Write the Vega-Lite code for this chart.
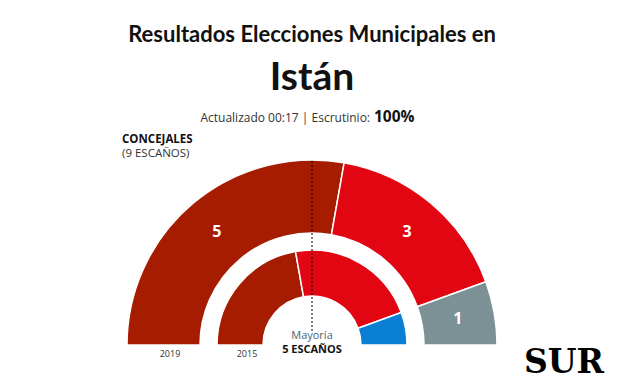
{
  "$schema": "https://vega.github.io/schema/vega-lite/v6.json",
  "width": 624,
  "height": 80,
  "autosize": "none",
  "padding": {"top": 305, "left": 0, "right": 0, "bottom": 0},
  "background": "white",
  "config": {"view": {"stroke": null}},
  "datasets": {
    "escanos": [
      {"anio": 2019, "partido": "IU", "escanos": 5, "orden": 1},
      {"anio": 2019, "partido": "PSOE", "escanos": 3, "orden": 2},
      {"anio": 2019, "partido": "Otros", "escanos": 1, "orden": 3},
      {"anio": 2015, "partido": "IU", "escanos": 4, "orden": 1},
      {"anio": 2015, "partido": "PSOE", "escanos": 4, "orden": 2},
      {"anio": 2015, "partido": "PP", "escanos": 1, "orden": 3}
    ]
  },
  "layer": [
    {
      "data": {"name": "escanos"},
      "transform": [{"filter": "datum.anio == 2019"}],
      "mark": {"type": "arc", "radius": 185, "radius2": 112, "stroke": "white", "strokeWidth": 1.5},
      "encoding": {
        "theta": {"field": "escanos", "type": "quantitative", "stack": true, "scale": {"domain": [0, 9], "range": [-1.5708, 1.5708]}},
        "order": {"field": "orden", "type": "quantitative"},
        "color": {"field": "partido", "type": "nominal", "legend": null, "scale": {"domain": ["IU", "PSOE", "Otros", "PP"], "range": ["#a51c00", "#e20613", "#7b9196", "#0a7fd4"]}}
      }
    },
    {
      "data": {"name": "escanos"},
      "transform": [{"filter": "datum.anio == 2015"}],
      "mark": {"type": "arc", "radius": 95, "radius2": 49, "stroke": "white", "strokeWidth": 1.5},
      "encoding": {
        "theta": {"field": "escanos", "type": "quantitative", "stack": true},
        "order": {"field": "orden", "type": "quantitative"},
        "color": {"field": "partido", "type": "nominal", "legend": null}
      }
    },
    {
      "data": {"name": "escanos"},
      "transform": [{"filter": "datum.anio == 2019"}],
      "mark": {"type": "text", "radius": 148, "color": "white", "font": "Open Sans", "fontWeight": "bold", "fontSize": 16, "baseline": "middle", "align": "center"},
      "encoding": {
        "theta": {"field": "escanos", "type": "quantitative", "stack": true},
        "order": {"field": "orden", "type": "quantitative"},
        "detail": {"field": "partido", "type": "nominal"},
        "text": {"field": "escanos", "type": "quantitative"}
      }
    },
    {
      "data": {"values": [{}]},
      "mark": {"type": "rule", "y": -144, "y2": 26, "strokeDash": [2, 2], "color": "#000000", "strokeWidth": 1},
      "encoding": {"x": {"value": {"expr": "width/2"}}}
    },
    {
      "data": {"values": [{"t": "Resultados Elecciones Municipales en"}]},
      "mark": {"type": "text", "x": {"expr": "width/2"}, "y": -263, "align": "center", "baseline": "alphabetic", "font": "Lato", "fontWeight": "bold", "fontSize": 22, "color": "#111111"},
      "encoding": {"text": {"field": "t"}}
    },
    {
      "data": {"values": [{"t": "Istán"}]},
      "mark": {"type": "text", "x": {"expr": "width/2"}, "y": -215, "align": "center", "baseline": "alphabetic", "font": "Lato", "fontWeight": "bold", "fontSize": 39, "color": "#111111"},
      "encoding": {"text": {"field": "t"}}
    },
    {
      "data": {"values": [{"t": "Actualizado 00:17 | Escrutinio:"}]},
      "mark": {"type": "text", "x": 370, "y": -183, "align": "right", "baseline": "alphabetic", "font": "Open Sans", "fontSize": 12, "color": "#333333"},
      "encoding": {"text": {"field": "t"}}
    },
    {
      "data": {"values": [{"t": "100%"}]},
      "mark": {"type": "text", "x": 374, "y": -183, "align": "left", "baseline": "alphabetic", "font": "Open Sans", "fontWeight": "bold", "fontSize": 15.5, "color": "#111111"},
      "encoding": {"text": {"field": "t"}}
    },
    {
      "data": {"values": [{"t": "CONCEJALES"}]},
      "mark": {"type": "text", "x": 122, "y": -162, "align": "left", "baseline": "alphabetic", "font": "Open Sans", "fontWeight": "bold", "fontSize": 11.5, "color": "#111111"},
      "encoding": {"text": {"field": "t"}}
    },
    {
      "data": {"values": [{"t": "(9 ESCAÑOS)"}]},
      "mark": {"type": "text", "x": 122, "y": -148, "align": "left", "baseline": "alphabetic", "font": "Open Sans", "fontSize": 11.5, "color": "#333333"},
      "encoding": {"text": {"field": "t"}}
    },
    {
      "data": {"values": [{"t": "Mayoría"}]},
      "mark": {"type": "text", "x": {"expr": "width/2"}, "y": 34, "align": "center", "baseline": "alphabetic", "font": "Open Sans", "fontSize": 11, "color": "#4d6575"},
      "encoding": {"text": {"field": "t"}}
    },
    {
      "data": {"values": [{"t": "5 ESCAÑOS"}]},
      "mark": {"type": "text", "x": {"expr": "width/2"}, "y": 48, "align": "center", "baseline": "alphabetic", "font": "Open Sans", "fontWeight": "bold", "fontSize": 11, "color": "#111111"},
      "encoding": {"text": {"field": "t"}}
    },
    {
      "data": {"values": [{"t": "2019"}]},
      "mark": {"type": "text", "x": 170, "y": 52, "align": "center", "baseline": "alphabetic", "font": "Open Sans", "fontSize": 9, "color": "#333333"},
      "encoding": {"text": {"field": "t"}}
    },
    {
      "data": {"values": [{"t": "2015"}]},
      "mark": {"type": "text", "x": 247, "y": 52, "align": "center", "baseline": "alphabetic", "font": "Open Sans", "fontSize": 9, "color": "#333333"},
      "encoding": {"text": {"field": "t"}}
    },
    {
      "data": {"values": [{"t": "SUR"}]},
      "mark": {"type": "text", "x": 564, "y": 68, "align": "center", "baseline": "alphabetic", "font": "DejaVu Serif", "fontWeight": "bold", "fontSize": 33, "color": "#000000"},
      "encoding": {"text": {"field": "t"}}
    }
  ]
}
